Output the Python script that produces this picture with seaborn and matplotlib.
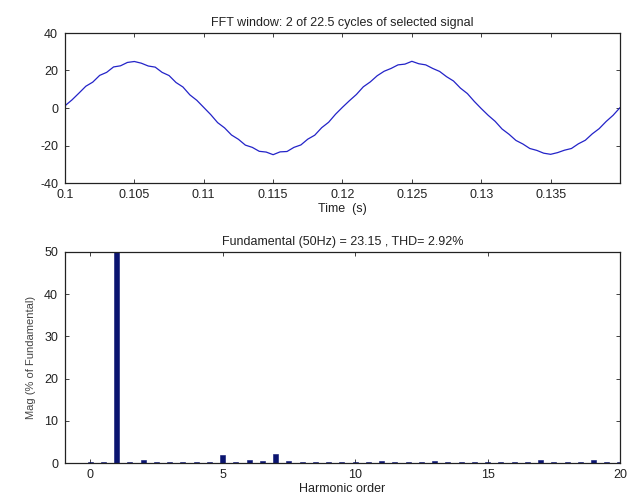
import matplotlib
matplotlib.use("Agg")
import matplotlib.pyplot as plt
import seaborn as sns
import pandas as pd
import numpy as np

# ---- data ----
t_start = 0.1
t_step = 0.0005
signal = [
    1.2, 4.3, 7.9, 11.6, 13.8, 17.4, 19.0, 21.9, 22.5, 24.3,
    24.8, 23.9, 22.4, 21.8, 19.0, 17.3, 13.6, 11.2, 7.0, 4.1,
    0.3, -3.5, -7.8, -10.6, -14.4, -16.7, -19.8, -21.0, -23.1, -23.5,
    -24.9, -23.4, -23.2, -21.0, -19.7, -16.6, -14.5, -10.5, -7.6, -3.3,
    0.4, 3.9, 7.2, 11.3, 13.9, 17.2, 19.6, 21.1, 23.0, 23.4,
    24.9, 23.6, 23.0, 21.1, 19.5, 16.7, 14.4, 10.6, 7.7, 3.5,
    -0.3, -3.9, -7.1, -11.2, -14.0, -17.3, -19.2, -21.6, -22.6, -24.1,
    -24.7, -23.8, -22.5, -21.6, -19.1, -17.2, -13.8, -11.0, -7.2, -3.9,
    0.2,
]
time = [round(t_start + i * t_step, 5) for i in range(len(signal))]

orders = [i * 0.5 for i in range(41)]
mags = [
    0.3, 0.2, 100.0, 0.2, 0.6, 0.2, 0.2, 0.2, 0.2, 0.2,
    1.9, 0.2, 0.6, 0.5, 2.2, 0.5, 0.2, 0.2, 0.2, 0.2,
    0.3, 0.2, 0.5, 0.2, 0.2, 0.2, 0.5, 0.2, 0.2, 0.2,
    0.3, 0.2, 0.2, 0.2, 0.7, 0.2, 0.2, 0.2, 0.6, 0.2,
    0.2,
]

top_title = "FFT window: 2 of 22.5 cycles of selected signal"
top_xlabel = "Time  (s)"
top_xticks = [0.1, 0.105, 0.11, 0.115, 0.12, 0.125, 0.13, 0.135]
top_yticks = [-40, -20, 0, 20, 40]
bot_title = "Fundamental (50Hz) = 23.15 , THD= 2.92%"
bot_xlabel = "Harmonic order"
bot_ylabel = "Mag (% of Fundamental)"
bot_xticks = [0, 5, 10, 15, 20]
bot_yticks = [0, 10, 20, 30, 40, 50]

sns.set_theme(style="white")
plt.rcParams["font.family"] = ["Liberation Sans", "DejaVu Sans"]
plt.rcParams["font.size"] = 8.5
plt.rcParams["axes.unicode_minus"] = False

fig = plt.figure(figsize=(6.32, 4.98), dpi=100)
W, H = 632, 498
ax1 = fig.add_axes([65 / W, 1 - 183 / H, (620 - 65) / W, (183 - 33) / H])
ax2 = fig.add_axes([65 / W, 1 - 463 / H, (620 - 65) / W, (463 - 252) / H])

txt = "#222222"

df1 = pd.DataFrame({"t": time, "v": signal})
sns.lineplot(data=df1, x="t", y="v", ax=ax1, color="#2323c8", linewidth=0.9)
ax1.set_xlim(0.1, 0.14)
ax1.set_ylim(-40, 40)
ax1.set_xticks(top_xticks)
ax1.set_xticklabels([f"{v:g}" for v in top_xticks])
ax1.set_yticks(top_yticks)
ax1.set_title(top_title, fontsize=9, pad=5, color=txt)
ax1.set_xlabel(top_xlabel, labelpad=2, fontsize=9, color=txt)
ax1.set_ylabel("")

df2 = pd.DataFrame({"order": orders, "mag": mags})
sns.barplot(data=df2, x="order", y="mag", ax=ax2, native_scale=True,
            color="#0a1470", width=0.38, saturation=1, edgecolor="#0a1470",
            linewidth=0.4)
ax2.set_xlim(-0.95, 20)
ax2.set_ylim(0, 50)
ax2.set_xticks(bot_xticks)
ax2.set_yticks(bot_yticks)
ax2.set_title(bot_title, fontsize=9, pad=5, color=txt)
ax2.set_xlabel(bot_xlabel, labelpad=2, fontsize=9, color=txt)
ax2.set_ylabel(bot_ylabel, fontsize=8, color="#444444", labelpad=6)

for ax in (ax1, ax2):
    for s in ax.spines.values():
        s.set_visible(True)
        s.set_color("#222222")
        s.set_linewidth(0.9)
    ax.tick_params(direction="in", length=3, width=0.6, top=True, right=True,
                   bottom=True, left=True, labelsize=9, colors="#222222",
                   pad=5)
    ax.tick_params(axis="x", pad=4)
    ax.grid(False)

fig.savefig("out.png", dpi=100, facecolor="white")
